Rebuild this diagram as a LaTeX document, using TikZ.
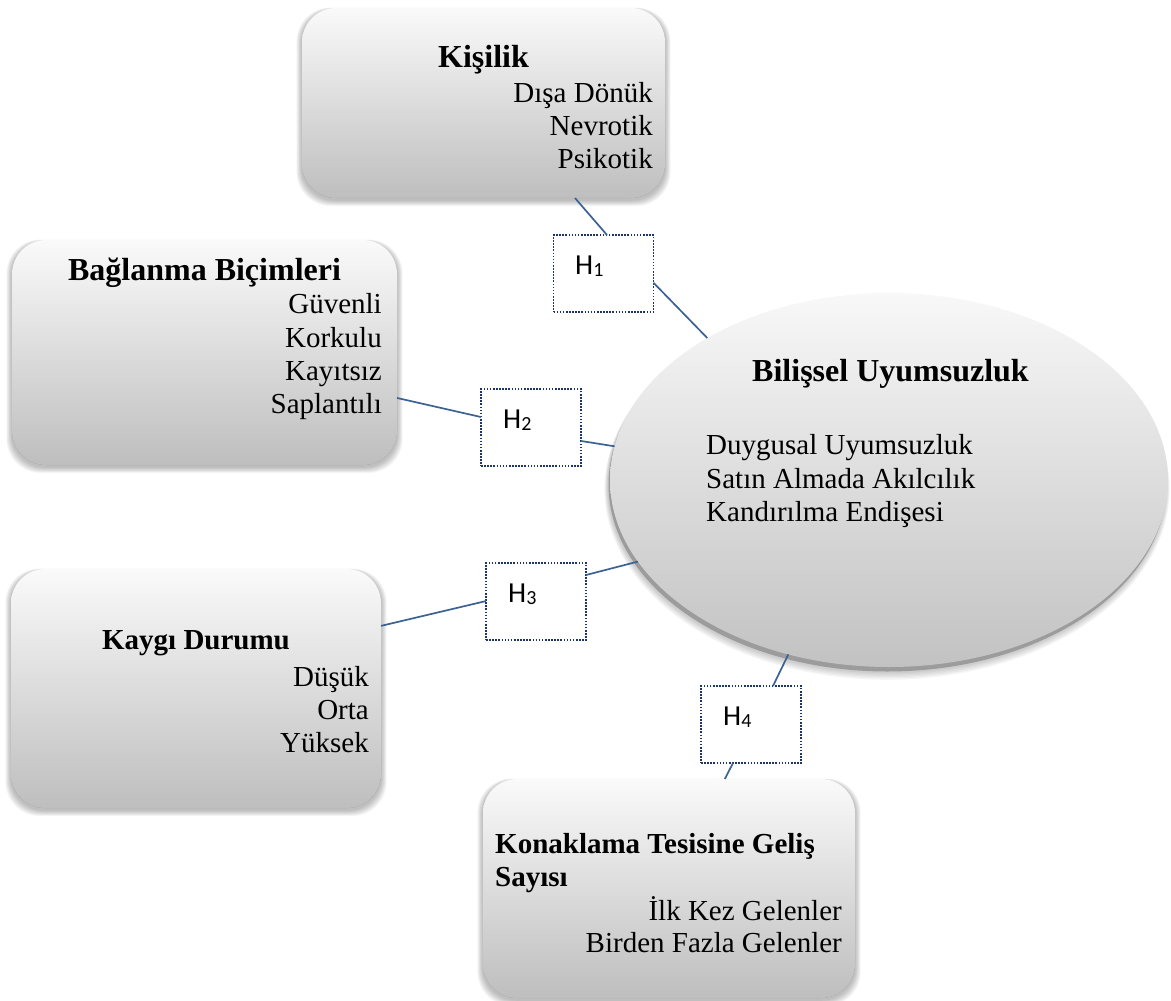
\documentclass[tikz,border=0pt]{standalone}
\usepackage{fontspec}
\setmainfont{Liberation Serif}
\newfontfamily\hfont{Carlito}
\usetikzlibrary{shapes.geometric,calc}

\definecolor{linkblue}{RGB}{60,98,148}
\definecolor{dotnavy}{RGB}{28,52,104}
\definecolor{boxtop}{RGB}{250,250,250}
\definecolor{boxbot}{RGB}{190,190,190}
\definecolor{elltop}{RGB}{248,248,248}
\definecolor{ellbot}{RGB}{194,194,194}
\definecolor{rimgray}{RGB}{156,156,156}

\tikzset{
  varbox/.style={draw=none, rounded corners=34pt, top color=boxtop, bottom color=boxbot,
                 inner sep=0pt, outer sep=0pt},
  hbox/.style={draw=dotnavy, line width=1.8pt, dash pattern=on 1.6pt off 1.5pt, fill=white,
               minimum width=100pt, minimum height=77pt, inner sep=0pt, outer sep=0pt},
  link/.style={draw=linkblue, line width=1.7pt},
  head/.style={font=\fontsize{32}{34}\selectfont\bfseries, inner sep=0pt},
  subhead/.style={font=\fontsize{29}{33}\selectfont\bfseries, inner sep=0pt},
  item/.style={font=\fontsize{29}{33}\selectfont, inner sep=0pt},
  hlab/.style={font=\hfont\fontsize{29}{30}\selectfont, inner sep=0pt},
}

% hypothesis label with a lowered index
\newcommand\hyplabel[1]{H\raisebox{-2.5pt}{\fontsize{20}{20}\selectfont #1}}

% soft shadow under a rounded box
\newcommand\boxshadow[1]{%
  \foreach \e in {1,...,8}{%
    \fill[black, opacity=0.035, rounded corners=34pt]
      ($(#1.south west)+(-\e*0.7,\e*0.75+2)$) rectangle ($(#1.north east)+(\e*0.7,-\e*0.3+2)$);
  }}

\begin{document}
\begin{tikzpicture}[x=1pt,y=-1pt]
\useasboundingbox (0,0) rectangle (1171,1001);

% variable boxes (placed first, shadows drawn under a second copy)
\node[varbox, minimum width=363pt, minimum height=190pt] (kis) at (483.5,103) {};
\node[varbox, minimum width=385pt, minimum height=225pt] (bag) at (204.5,352.5) {};
\node[varbox, minimum width=370pt, minimum height=239pt] (kay) at (196,688.5) {};
\node[varbox, minimum width=372pt, minimum height=219pt] (kon) at (669,888.5) {};

\boxshadow{kis}
\boxshadow{bag}
\boxshadow{kay}
\boxshadow{kon}
\node[varbox, minimum width=363pt, minimum height=190pt] (kisf) at (kis) {};
\node[varbox, minimum width=385pt, minimum height=225pt] (bagf) at (bag) {};
\node[varbox, minimum width=370pt, minimum height=239pt] (kayf) at (kay) {};
\node[varbox, minimum width=372pt, minimum height=219pt] (konf) at (kon) {};

% central ellipse with its rim shadow
\foreach \e in {1,...,6}{%
  \fill[black, opacity=0.035] (887,485+\e*0.7) ellipse [x radius={279pt+\e*0.6pt}, y radius={187pt+\e*0.6pt}];
}
\fill[rimgray] (887.5,484.5) ellipse [x radius=279pt, y radius=187pt];
\node[ellipse, draw=none, top color=elltop, bottom color=ellbot, minimum width=558pt,
      minimum height=374pt, inner sep=0pt, outer sep=0pt] (ell) at (889,480) {};

% hypothesis boxes
\node[hbox] (h1) at (603.5,273.5) {};
\node[hbox] (h2) at (531,427.5) {};
\node[hbox] (h3) at (536,601.5) {};
\node[hbox] (h4) at (751,724.5) {};

% connectors
\draw[link] ($(kis.south west)!0.752!(kis.south east)$) -- ($(h1.north west)!0.535!(h1.north east)$);
\draw[link] ($(h1.north east)!0.62!(h1.south east)$) -- (ell.142);
\draw[link] ($(bag.north east)!0.702!(bag.south east)$) -- ($(h2.north west)!0.364!(h2.south west)$);
\draw[link] ($(h2.north east)!0.675!(h2.south east)$) -- (ell.173.4);
\draw[link] ($(kay.north east)!0.238!(kay.south east)$) -- ($(h3.north west)!0.494!(h3.south west)$);
\draw[link] ($(h3.north east)!0.156!(h3.south east)$) -- (ell.198.3);
\draw[link] (ell.240.6) -- ($(h4.north west)!0.72!(h4.north east)$);
\draw[link] ($(h4.south west)!0.32!(h4.south east)$) -- ($(kon.north west)!0.65!(kon.north east)$);

% hypothesis labels
\node[hlab, anchor=base west] (h1t) at (575,274) {\hyplabel{1}};
\node[hlab, anchor=base west] (h2t) at (503,428) {\hyplabel{2}};
\node[hlab, anchor=base west] (h3t) at (508,602) {\hyplabel{3}};
\node[hlab, anchor=base west] (h4t) at (723,725) {\hyplabel{4}};

% Kişilik
\node[head, anchor=base] (kish) at (483.5,67) {Kişilik};
\node[item, anchor=base east] (kis1) at (653,102) {Dışa Dönük};
\node[item, anchor=base east] (kis2) at (653,135) {Nevrotik};
\node[item, anchor=base east] (kis3) at (653,168) {Psikotik};

% Bağlanma Biçimleri
\node[head, anchor=base] (bagh) at (204.5,280) {Bağlanma Biçimleri};
\node[item, anchor=base east] (bag1) at (382,313) {Güvenli};
\node[item, anchor=base east] (bag2) at (382,347) {Korkulu};
\node[item, anchor=base east] (bag3) at (382,380) {Kayıtsız};
\node[item, anchor=base east] (bag4) at (382,413) {Saplantılı};

% Kaygı Durumu
\node[subhead, anchor=base] (kayh) at (196,649) {Kaygı Durumu};
\node[item, anchor=base east] (kay1) at (369,686) {Düşük};
\node[item, anchor=base east] (kay2) at (369,719) {Orta};
\node[item, anchor=base east] (kay3) at (369,752) {Yüksek};

% Konaklama Tesisine Geliş Sayısı
\node[subhead, anchor=base west] (konh1) at (495,853) {Konaklama Tesisine Geliş};
\node[subhead, anchor=base west] (konh2) at (495,886) {Sayısı};
\node[item, anchor=base east] (kon1) at (842,920) {İlk Kez Gelenler};
\node[item, anchor=base east] (kon2) at (842,952) {Birden Fazla Gelenler};

% Bilişsel Uyumsuzluk
\node[head, anchor=base] (ellh) at (890.5,381) {Bilişsel Uyumsuzluk};
\node[item, anchor=base west] (ell1) at (706,454) {Duygusal Uyumsuzluk};
\node[item, anchor=base west] (ell2) at (706,488) {Satın Almada Akılcılık};
\node[item, anchor=base west] (ell3) at (706,521) {Kandırılma Endişesi};
\end{tikzpicture}
\end{document}
